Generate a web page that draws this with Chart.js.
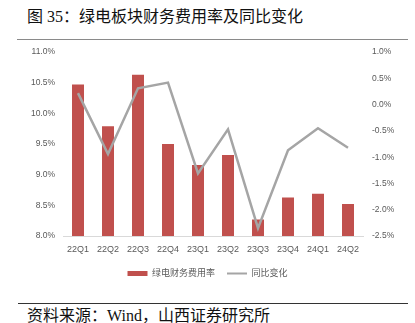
<!DOCTYPE html>
<html>
<head>
<meta charset="utf-8">
<script src="https://cdn.jsdelivr.net/npm/chart.js@4/dist/chart.umd.min.js"></script>
<style>
  html, body { margin: 0; padding: 0; background: #fff; }
  body { width: 415px; height: 323px; position: relative; overflow: hidden; }
  .title {
    position: absolute; left: 27px; top: 8px;
    font: 16px/17px "Liberation Serif", "Noto Sans CJK SC", serif; color: #111;
    white-space: nowrap;
  }
  .rule-top { position: absolute; left: 17px; top: 39px; width: 391px; border-top: 1.5px solid #8a8a8a; }
  .rule-bottom { position: absolute; left: 18px; top: 303px; width: 390px; border-top: 1px solid #333; }
  .source {
    position: absolute; left: 27px; top: 307px;
    font: 16px/17px "Liberation Serif", "Noto Sans CJK SC", serif; color: #111;
    white-space: nowrap;
  }
  #wrap { position: absolute; left: 0; top: 38px; width: 415px; height: 250px; }
</style>
</head>
<body>
<div class="title">图 35：绿电板块财务费用率及同比变化</div>
<div class="rule-top"></div>
<div id="wrap"><canvas id="chart" width="415" height="250"></canvas></div>
<div class="rule-bottom"></div>
<div class="source">资料来源：Wind，山西证券研究所</div>

<script>
// data
const quarters = ['22Q1', '22Q2', '22Q3', '22Q4', '23Q1', '23Q2', '23Q3', '23Q4', '24Q1', '24Q2'];
const financeCostRate = [10.47, 9.79, 10.63, 9.50, 9.16, 9.32, 8.27, 8.63, 8.69, 8.52]; // 绿电财务费用率, %
const yoyChange = [0.22, -0.94, 0.31, 0.42, -1.31, -0.47, -2.35, -0.87, -0.45, -0.82]; // 同比变化, pct
const leftTicks = { min: 8, max: 11, step: 0.5 };
const rightTicks = { min: -2.5, max: 1.0, step: 0.5 };

const tickColor = '#595959';
const tickFont = { family: '"Liberation Sans", "Noto Sans CJK SC", sans-serif', size: 8.5 };
const pct = v => Number(v).toFixed(1) + '%';

new Chart(document.getElementById('chart'), {
  data: {
    labels: quarters,
    datasets: [
      {
        type: 'line',
        label: '同比变化',
        data: yoyChange,
        yAxisID: 'y1',
        borderColor: '#A5A5A5',
        backgroundColor: '#A5A5A5',
        borderWidth: 2.5,
        pointRadius: 0,
        tension: 0,
        order: 0,
      },
      {
        type: 'bar',
        label: '绿电财务费用率',
        data: financeCostRate,
        yAxisID: 'y',
        backgroundColor: '#C0504D',
        borderWidth: 0,
        barPercentage: 0.4,
        categoryPercentage: 1,
        order: 1,
      },
    ],
  },
  options: {
    responsive: false,
    animation: false,
    devicePixelRatio: 1,
    layout: { padding: 0 },
    scales: {
      x: {
        grid: { display: false, drawTicks: false },
        border: { display: true, color: '#D9D9D9', width: 1 },
        ticks: { color: tickColor, font: { ...tickFont, size: 9 }, padding: 8, maxRotation: 0 },
        afterFit: s => { s.height = 21; },
      },
      y: {
        position: 'left',
        min: leftTicks.min,
        max: leftTicks.max,
        grid: { display: false, drawTicks: false },
        border: { display: false },
        ticks: { stepSize: leftTicks.step, color: tickColor, font: tickFont, padding: 8, callback: pct },
        afterFit: s => { s.width = 63; },
      },
      y1: {
        position: 'right',
        min: rightTicks.min,
        max: rightTicks.max,
        grid: { display: false, drawTicks: false },
        border: { display: false },
        ticks: { stepSize: rightTicks.step, color: tickColor, font: tickFont, padding: 9, callback: pct },
        afterFit: s => { s.width = 52; },
      },
    },
    plugins: {
      tooltip: { enabled: false },
      legend: {
        position: 'bottom',
        labels: {
          color: tickColor,
          font: { ...tickFont, size: 9 },
          usePointStyle: true,
          pointStyleWidth: 20,
          boxHeight: 5,
          padding: 12,
          generateLabels: chart => {
            const items = Chart.defaults.plugins.legend.labels.generateLabels(chart);
            items.forEach(it => {
              const ds = chart.data.datasets[it.datasetIndex];
              it.pointStyle = ds.type === 'line' ? 'line' : 'rect';
              if (ds.type === 'line') it.lineWidth = 2;
            });
            // bar entry first, as in the reference
            return items.sort((a, b) => b.datasetIndex - a.datasetIndex);
          },
        },
      },
    },
  },
});
</script>
</body>
</html>
